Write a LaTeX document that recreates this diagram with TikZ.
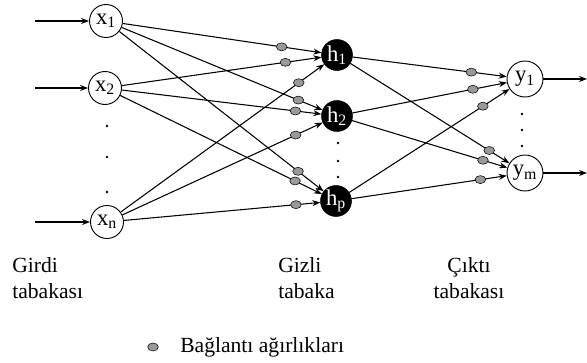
\documentclass[tikz,border=0pt]{standalone}
\usepackage{fontspec}
\setmainfont{Liberation Serif}
\usetikzlibrary{shapes.geometric,arrows.meta}

\begin{document}
\begin{tikzpicture}[x=0.75pt, y=-0.75pt,
  inp/.style={circle, draw, line width=0.7pt, fill=white, minimum size=24.75pt, inner sep=0pt, font=\fontsize{17}{20}\selectfont},
  hid/.style={circle, draw, fill=black, text=white, minimum size=23.25pt, inner sep=0pt, font=\fontsize{17}{20}\selectfont},
  outp/.style={circle, draw, line width=0.7pt, fill=white, minimum size=27pt, inner sep=0pt, font=\fontsize{17}{20}\selectfont},
  wt/.style={ellipse, draw, thin, fill=black!40, minimum width=8pt, minimum height=6pt, inner sep=0pt},
  conn/.style={line width=0.8pt, -{Stealth[length=6pt, width=4.5pt]}},
  lbl/.style={inner sep=0pt, font=\fontsize{16.2}{19.5}\selectfont}]

\useasboundingbox (0,0) rectangle (587,363);

\node [inp] (x1) at (106,21) {x\textsubscript{1}};
\node [inp] (x2) at (105,88) {x\textsubscript{2}};
\node [inp] (xn) at (107,222) {x\textsubscript{n}};

\node [hid] (h1) at (337,55) {h\textsubscript{1}};
\node [hid] (h2) at (337,116) {h\textsubscript{2}};
\node [hid] (hp) at (336,201) {h\textsubscript{p}};

\node [outp] (y1) at (525,79) {y\textsubscript{1}};
\node [outp] (ym) at (525,173) {y\textsubscript{m}};

\coordinate (in1) at (35,21);
\coordinate (in2) at (35,88);
\coordinate (inn) at (35,222);
\coordinate (out1) at (587,79);
\coordinate (outm) at (587,173);

\draw [conn] (in1) -- (x1);
\draw [conn] (in2) -- (x2);
\draw [conn] (inn) -- (xn);

\draw [conn] (x1) -- node [wt, pos=0.80] {} (h1);
\draw [conn] (x2) -- node [wt, pos=0.82] {} (h1);
\draw [conn] (xn) -- node [wt, pos=0.875] {} (h1);
\draw [conn] (x1) -- node [wt, pos=0.88] {} (h2);
\draw [conn] (x2) -- node [wt, pos=0.87] {} (h2);
\draw [conn] (xn) -- node [wt, pos=0.865] {} (h2);
\draw [conn] (x1) -- node [wt, pos=0.875] {} (hp);
\draw [conn] (x2) -- node [wt, pos=0.867] {} (hp);
\draw [conn] (xn) -- node [wt, pos=0.876] {} (hp);

\draw [conn] (h1) -- node [wt, pos=0.77] {} (y1);
\draw [conn] (h2) -- node [wt, pos=0.78] {} (y1);
\draw [conn] (hp) -- node [wt, pos=0.834] {} (y1);
\draw [conn] (h1) -- node [wt, pos=0.873] {} (ym);
\draw [conn] (h2) -- node [wt, pos=0.843] {} (ym);
\draw [conn] (hp) -- node [wt, pos=0.83] {} (ym);

\draw [conn] (y1) -- (out1);
\draw [conn] (ym) -- (outm);

\fill (107,126) circle (1.1pt);
\fill (107,157) circle (1.1pt);
\fill (107,192) circle (1.1pt);
\fill (338,143) circle (1.1pt);
\fill (338,161) circle (1.1pt);
\fill (338,177) circle (1.1pt);
\fill (522,114) circle (1.1pt);
\fill (522,130) circle (1.1pt);
\fill (522,146) circle (1.1pt);

\node [lbl, align=left, anchor=north west] (girdi) at (12,257) {Girdi\\tabakası};
\node [lbl, align=left, anchor=north west] (gizli) at (278,257) {Gizli\\tabaka};
\node [lbl, align=center, anchor=north] (cikti) at (469,257) {Çıktı\\tabakası};

\node [wt] (key) at (153,347) {};
\node [lbl, anchor=west] (keytext) at (180,347) {Bağlantı ağırlıkları};

\end{tikzpicture}
\end{document}
